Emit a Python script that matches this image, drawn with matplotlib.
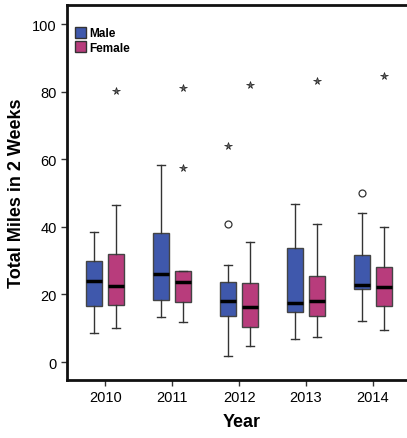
import matplotlib
matplotlib.use("Agg")
import matplotlib.pyplot as plt
from matplotlib.patches import Patch

plt.rcParams['font.family'] = ['Liberation Sans', 'DejaVu Sans']

years = ["2010", "2011", "2012", "2013", "2014"]

# [whislo, q1, median, q3, whishi]
male_stats = [
    [8.6, 16.7, 24.1, 29.8, 38.5],
    [13.2, 18.3, 26.1, 38.1, 58.4],
    [1.8, 13.5, 18.1, 23.8, 28.8],
    [6.8, 14.8, 17.5, 33.7, 46.8],
    [12.0, 21.7, 22.8, 31.6, 44.0],
]
female_stats = [
    [10.0, 16.9, 22.4, 32.0, 46.4],
    [11.9, 17.8, 23.6, 27.0, 27.0],
    [4.7, 10.4, 16.2, 23.3, 35.6],
    [7.5, 13.7, 18.1, 25.5, 40.9],
    [9.6, 16.7, 22.3, 28.0, 39.9],
]
# outliers: (year index, value)
male_circles = [(2, 40.8), (4, 50.1)]
male_stars = [(2, 63.9)]
female_circles = []
female_stars = [(0, 80.1), (1, 81.1), (1, 57.3), (2, 82.0), (3, 83.1), (4, 84.6)]

male_color = "#3F58AC"
female_color = "#B83C7C"

fig = plt.figure(figsize=(4.07, 4.39), dpi=100)
ax = fig.add_axes([0.1646, 0.132, 0.86, 0.854])

off = 0.16
width = 0.24

def make(stats_list):
    out = []
    for s in stats_list:
        out.append(dict(whislo=s[0], q1=s[1], med=s[2], q3=s[3], whishi=s[4], fliers=[]))
    return out

for stats, sign, col in [(male_stats, -1, male_color), (female_stats, 1, female_color)]:
    pos = [i + sign * off for i in range(len(years))]
    ax.bxp(make(stats), positions=pos, widths=width, patch_artist=True, showfliers=False,
           boxprops=dict(facecolor=col, edgecolor="#444444", linewidth=1.0),
           medianprops=dict(color="black", linewidth=2.5),
           whiskerprops=dict(color="#333333", linewidth=1.0),
           capprops=dict(color="#333333", linewidth=1.0),
           capwidths=width * 0.5, zorder=2)

for pts, sign, mk in [(male_circles, -1, 'o'), (male_stars, -1, '*'),
                      (female_circles, 1, 'o'), (female_stars, 1, '*')]:
    for i, v in pts:
        if mk == 'o':
            ax.plot(i + sign * off, v, marker='o', markersize=5, markerfacecolor='white',
                    markeredgecolor='#333333', markeredgewidth=0.9, linestyle='none', zorder=3)
        else:
            ax.plot(i + sign * off, v, marker='*', markersize=5.5, markerfacecolor='#666666',
                    markeredgecolor='#222222', markeredgewidth=0.5,
                    linestyle='none', zorder=3)

ax.set_xlim(-0.57, 4.657)
ax.set_ylim(-5.33, 105.6)
ax.set_xticks(range(len(years)))
ax.set_xticklabels(years, fontsize=10.5)
ax.set_yticks([0, 20, 40, 60, 80, 100])
ax.tick_params(axis='both', labelsize=10.5, length=4, width=1, color='#333333')
for sp in ax.spines.values():
    sp.set_linewidth(2)
    sp.set_color('#111111')

ax.set_xlabel("Year", fontsize=13, fontweight='bold', labelpad=6)
ax.set_ylabel("Total Miles in 2 Weeks", fontsize=13, fontweight='bold', labelpad=5)

handles = [Patch(facecolor=male_color, edgecolor='#333333', label='Male'),
           Patch(facecolor=female_color, edgecolor='#333333', label='Female')]
leg = ax.legend(handles=handles, loc='upper left', bbox_to_anchor=(0.0, 0.965),
                frameon=False, prop=dict(weight='bold', size=8.5),
                handlelength=0.9, handleheight=1.1, handletextpad=0.25,
                labelspacing=0.15, borderaxespad=0.3)

fig.savefig("out.png", dpi=100)
